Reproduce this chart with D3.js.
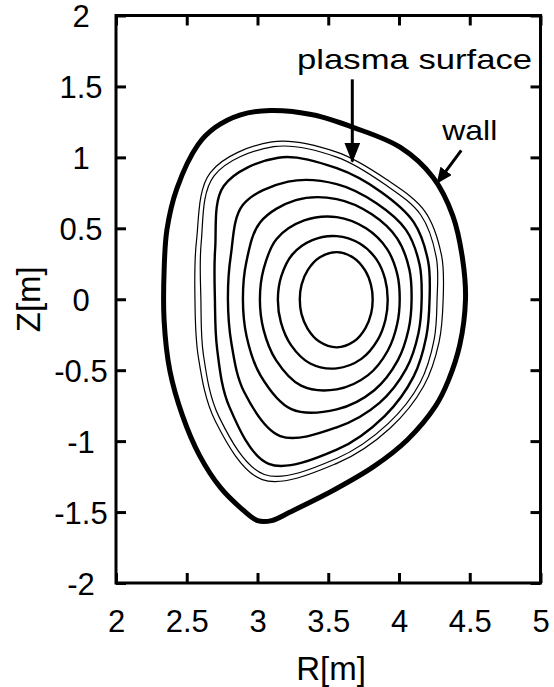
<!DOCTYPE html>
<html>
<head>
<meta charset="utf-8">
<script src="https://cdn.jsdelivr.net/npm/d3@7"></script>
<style>
  html, body { margin: 0; padding: 0; background: #fff; }
  svg text { font-family: "Liberation Sans", Arial, Helvetica, sans-serif; fill: #000; }
</style>
</head>
<body>
<div id="chart"></div>
<script>
// ── Data (R, Z in metres) ──
const xTicks = [2, 2.5, 3, 3.5, 4, 4.5, 5];
const yTicks = [2, 1.5, 1, 0.5, 0, -0.5, -1, -1.5, -2];

// vacuum vessel wall, [R, Z]
const wall = [
  [3.09, 1.33], [3.39, 1.30], [3.68, 1.21], [4.01, 1.07], [4.24, 0.86], [4.38, 0.59],
  [4.45, 0.28], [4.47, 0.0], [4.43, -0.32], [4.35, -0.57], [4.26, -0.75], [4.06, -0.99],
  [3.82, -1.18], [3.53, -1.35], [3.23, -1.50], [3.10, -1.56], [3.00, -1.56], [2.88, -1.47],
  [2.74, -1.33], [2.59, -1.10], [2.47, -0.82], [2.38, -0.50], [2.34, -0.15], [2.34, 0.20],
  [2.36, 0.49], [2.43, 0.78], [2.58, 1.09], [2.70, 1.21], [2.88, 1.30]
];

// flux surfaces: minor radius (m) measured from the magnetic axis at each poloidal angle
const magAxis = [3.56, 0.0];
const angles = [0, 22.5, 45, 67.5, 90, 112.5, 135, 157.5, 180, 202.5, 225, 247.5, 270, 292.5, 315, 337.5];

// plasma surface, drawn as a thin double line
const surfaceOuter = [0.752, 0.802, 0.879, 0.915, 1.037, 1.200, 1.263, 1.073, 1.002, 1.059, 1.214, 1.376, 1.157, 0.984, 0.868, 0.783];
const surfaceInner = [0.709, 0.762, 0.840, 0.879, 1.002, 1.164, 1.228, 1.037, 0.960, 1.020, 1.175, 1.337, 1.122, 0.949, 0.833, 0.745];
// inner flux surfaces, outer to inner
const flux6 = [0.656, 0.699, 0.769, 0.819, 0.924, 1.080, 1.129, 0.930, 0.861, 0.915, 1.073, 1.256, 1.060, 0.889, 0.769, 0.685];
const flux5 = [0.600, 0.634, 0.692, 0.733, 0.812, 0.897, 0.939, 0.810, 0.769, 0.806, 0.925, 1.044, 0.903, 0.790, 0.694, 0.625];
const flux4 = [0.529, 0.555, 0.605, 0.648, 0.706, 0.756, 0.766, 0.691, 0.663, 0.689, 0.761, 0.838, 0.776, 0.694, 0.610, 0.550];
const flux3 = [0.445, 0.463, 0.502, 0.541, 0.579, 0.601, 0.601, 0.559, 0.543, 0.560, 0.607, 0.659, 0.635, 0.579, 0.511, 0.462];
const flux2 = [0.360, 0.370, 0.397, 0.425, 0.445, 0.451, 0.445, 0.424, 0.416, 0.427, 0.457, 0.490, 0.487, 0.455, 0.408, 0.373];
const flux1 = [0.254, 0.262, 0.285, 0.315, 0.332, 0.318, 0.290, 0.269, 0.261, 0.270, 0.292, 0.323, 0.339, 0.321, 0.287, 0.263];

// annotations: [label, text R, text Z, arrow tail R, tail Z, tip R, tip Z]
const notes = [
  ["plasma surface", 4.11, 1.62, 3.67, 1.55, 3.67, 0.97],
  ["wall", 4.50, 1.12, 4.44, 1.05, 4.27, 0.82]
];

// ── Layout ──
const W = 554, H = 687;
const x = d3.scaleLinear().domain([2, 5]).range([116, 540.5]);
const y = d3.scaleLinear().domain([-2, 2]).range([583, 15.5]);

const svg = d3.select("#chart").append("svg")
  .attr("width", W).attr("height", H);

// arrow head markers
const defs = svg.append("defs");
defs.append("marker").attr("id", "head-big")
  .attr("markerUnits", "userSpaceOnUse")
  .attr("markerWidth", 20).attr("markerHeight", 16)
  .attr("refX", 19).attr("refY", 8).attr("orient", "auto")
  .append("path").attr("d", "M0,0 L20,8 L0,16 Z").attr("fill", "#000");
defs.append("marker").attr("id", "head-small")
  .attr("markerUnits", "userSpaceOnUse")
  .attr("markerWidth", 16).attr("markerHeight", 14)
  .attr("refX", 15).attr("refY", 7).attr("orient", "auto")
  .append("path").attr("d", "M0,0 L16,7 L0,14 Z").attr("fill", "#000");

// ── Contours ──
const line = d3.line()
  .x(d => x(d[0]))
  .y(d => y(d[1]))
  .curve(d3.curveCatmullRomClosed.alpha(0.5));

// radius list -> [R, Z] points around the magnetic axis
const toRZ = radii => radii.map((r, i) => {
  const a = angles[i] * Math.PI / 180;
  return [magAxis[0] + r * Math.cos(a), magAxis[1] + r * Math.sin(a)];
});

const curves = [
  { pts: wall, w: 5 },
  { pts: toRZ(surfaceOuter), w: 1.2 },
  { pts: toRZ(surfaceInner), w: 1.2 },
  { pts: toRZ(flux6), w: 2.4 },
  { pts: toRZ(flux5), w: 2.4 },
  { pts: toRZ(flux4), w: 2.4 },
  { pts: toRZ(flux3), w: 2.4 },
  { pts: toRZ(flux2), w: 2.4 },
  { pts: toRZ(flux1), w: 2.4 }
];

svg.append("g").selectAll("path")
  .data(curves).join("path")
  .attr("d", d => line(d.pts))
  .attr("fill", "none")
  .attr("stroke", "#000")
  .attr("stroke-width", d => d.w)
  .attr("stroke-linejoin", "round");

// ── Axes (ticks pointing inward on all four sides) ──
const fontSize = 31;
const fmt = d => String(d);   // plain hyphen for negatives, like the original

const gx = svg.append("g").attr("transform", `translate(0,${y(-2)})`)
  .call(d3.axisBottom(x).tickValues(xTicks).tickSize(-10).tickPadding(27).tickFormat(fmt));
const gy = svg.append("g").attr("transform", `translate(${x(2)},0)`)
  .call(d3.axisLeft(y).tickValues(yTicks).tickSize(-10).tickFormat(fmt));
const gt = svg.append("g").attr("transform", `translate(0,${y(2)})`)
  .call(d3.axisTop(x).tickValues(xTicks).tickSize(-10).tickFormat(""));
const gr = svg.append("g").attr("transform", `translate(${x(5)},0)`)
  .call(d3.axisRight(y).tickValues(yTicks).tickSize(-10).tickFormat(""));

[gx, gy, gt, gr].forEach(g => {
  g.select(".domain").remove();
  g.selectAll(".tick line").attr("stroke", "#000").attr("stroke-width", 3);
  g.selectAll("text").attr("font-size", fontSize).attr("font-family", null).attr("fill", "#000");
});

gy.selectAll(".tick text")
  .attr("text-anchor", "middle")
  .attr("x", 81 - x(2))
  .attr("dy", "0.36em");

// frame
svg.append("rect")
  .attr("x", x(2)).attr("y", y(2))
  .attr("width", x(5) - x(2)).attr("height", y(-2) - y(2))
  .attr("fill", "none").attr("stroke", "#000").attr("stroke-width", 3);

// axis titles
svg.append("text")
  .attr("x", 331).attr("y", 680)
  .attr("text-anchor", "middle")
  .attr("font-size", 33)
  .text("R[m]");

svg.append("text")
  .attr("transform", `translate(40,${y(0)}) rotate(-90)`)
  .attr("text-anchor", "middle")
  .attr("font-size", 33)
  .text("Z[m]");

// ── Annotations ──
const ann = svg.append("g");
ann.selectAll("line")
  .data(notes).join("line")
  .attr("x1", d => x(d[3])).attr("y1", d => y(d[4]))
  .attr("x2", d => x(d[5])).attr("y2", d => y(d[6]))
  .attr("stroke", "#000").attr("stroke-width", 3)
  .attr("marker-end", (d, i) => i === 0 ? "url(#head-big)" : "url(#head-small)");

ann.selectAll("text")
  .data(notes).join("text")
  .attr("x", d => x(d[1])).attr("y", d => y(d[2]))
  .attr("text-anchor", "middle")
  .attr("font-size", 28)
  .attr("textLength", (d, i) => i === 0 ? 235 : 55)
  .attr("lengthAdjust", "spacingAndGlyphs")
  .text(d => d[0]);
</script>
</body>
</html>
